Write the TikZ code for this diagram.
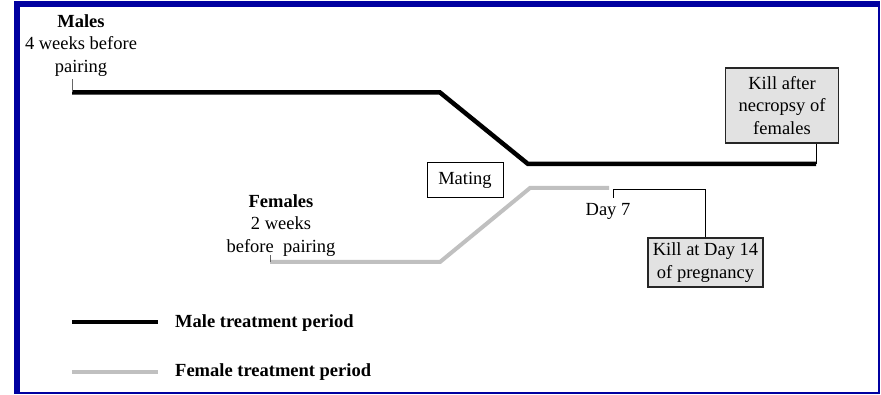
\documentclass[tikz,border=0pt]{standalone}
\usepackage{fontspec}
\setmainfont{Liberation Serif}
\definecolor{frameblue}{RGB}{0,0,160}
\definecolor{femgray}{RGB}{192,192,192}
\definecolor{boxfill}{RGB}{226,226,226}
\begin{document}
\begin{tikzpicture}[x=1pt,y=-1pt,
  every node/.style={font=\fontsize{18.5}{22.5}\selectfont, inner sep=0pt},
  maleline/.style={line width=4.5pt, black},
  femline/.style={line width=4pt, femgray},
  tick/.style={line width=0.8pt, black},
  killbox/.style={draw=black!85, line width=1.2pt, fill=boxfill, align=center},
  plainbox/.style={draw=black, line width=1pt, fill=white, align=center},
  label/.style={align=center}]
\useasboundingbox (0,0) rectangle (881,395);
% frame
\fill[white] (14,1) rectangle (879,393);
\fill[frameblue] (14,1) rectangle (879,7);
\fill[frameblue] (14,1) rectangle (20,393);
\draw[frameblue, line width=1.5pt] (879,1) -- (879,393) -- (14,393);

% male timeline
\coordinate (m1) at (72,92.5);
\coordinate (m2) at (440,92.5);
\coordinate (m3) at (528,164);
\coordinate (m4) at (816,164);
\draw[maleline, line join=miter] (m1) -- (m2) -- (m3) -- (m4);
\draw[tick, black!60] (m1) -- ++(0,-13);
\node[label, anchor=north] (males) at (81,14) {\textbf{Males}\\4 weeks before\\pairing};

% female timeline
\coordinate (f1) at (270,262);
\coordinate (f2) at (440,262);
\coordinate (f3) at (530,188);
\coordinate (f4) at (609,188);
\draw[femline, line join=miter] (f1) -- (f2) -- (f3) -- (f4);
\draw[tick, black!60] (f1) -- ++(0,-7);
\node[label, anchor=north] (females) at (281,194) {\textbf{Females}\\2 weeks\\before\ \ pairing};

% mating
\node[plainbox, minimum width=76pt, minimum height=35pt] (mating) at (465,180.5) {Mating};

% end of male treatment
\node[killbox, minimum width=113pt, minimum height=75pt] (killm) at (782,105.5)
  {Kill after\\necropsy of\\females};
\draw[tick] (m4) -- (m4 |- killm.south);

% day 7 and end of female treatment
\coordinate (d7) at (613,198);
\node (day7) at (608,211) {Day 7};
\node[killbox, minimum width=115pt, minimum height=49pt] (killf) at (705.5,262.5)
  {Kill at Day 14\\of pregnancy};
\draw[tick] (d7) -- ++(0,-9) -| (killf.north);

% legend
\coordinate (lm1) at (72,322);
\coordinate (lm2) at (158,322);
\coordinate (lf1) at (72,371.5);
\coordinate (lf2) at (158,371.5);
\draw[maleline] (lm1) -- (lm2);
\draw[femline] (lf1) -- (lf2);
\node[anchor=base west] (legm) at (175,327) {\textbf{Male treatment period}};
\node[anchor=base west] (legf) at (175,377) {\textbf{Female treatment period}};
\end{tikzpicture}
\end{document}
